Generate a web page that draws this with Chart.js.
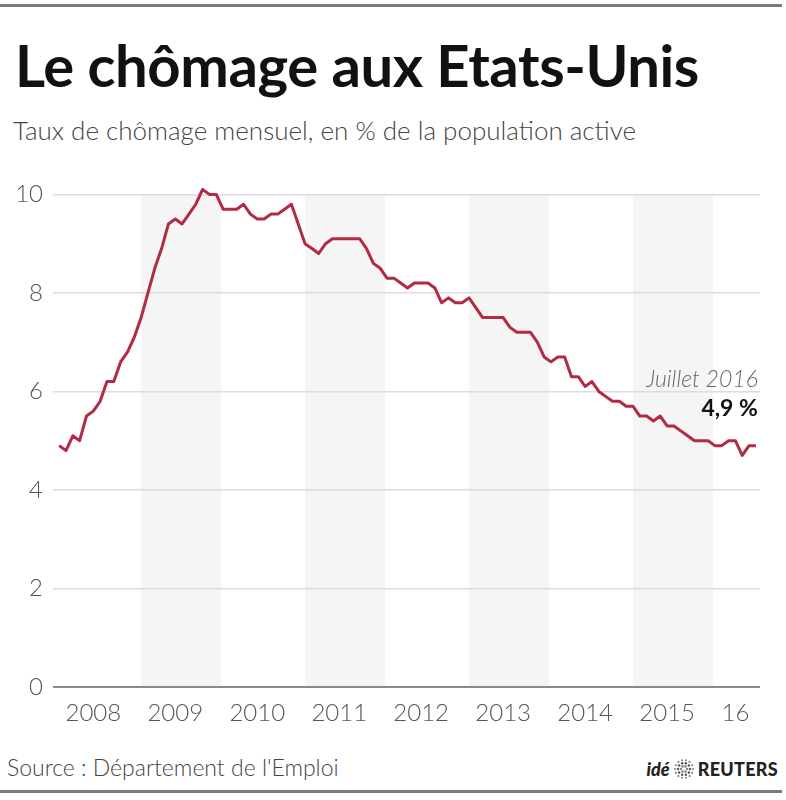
<!DOCTYPE html>
<html lang="fr">
<head>
<meta charset="utf-8">
<script src="https://cdn.jsdelivr.net/npm/chart.js@4.4.1/dist/chart.umd.min.js"></script>
<style>
  body { margin: 0; width: 786px; height: 800px; background: #fff; position: relative; overflow: hidden;
         font-family: Lato, "Open Sans", sans-serif; }
  .rule { position: absolute; left: 0; width: 782px; height: 3px; background: #7a7a7a; }
  #title { position: absolute; left: 15px; top: 36px; font-size: 58px; line-height: 58px; font-weight: 700;
           color: #111; white-space: nowrap; letter-spacing: -0.4px; }
  #subtitle { position: absolute; left: 13px; top: 117px; font-size: 26px; line-height: 26px; font-weight: 300;
              color: #444; white-space: nowrap; }
  #source { position: absolute; left: 7px; top: 756px; font-size: 23px; line-height: 23px; font-weight: 300;
            color: #444; white-space: nowrap; }
  #logo { position: absolute; right: 8px; top: 758px; display: flex; align-items: center; gap: 3px;
          font-size: 18px; line-height: 20px; color: #222; }
  #logo .ide { font-weight: 900; font-style: italic; }
  #logo .reuters { font-weight: 900; letter-spacing: 0.3px; }
  #chart { position: absolute; left: 0; top: 170px; }
</style>
</head>
<body>
<div class="rule" style="top:4px"></div>
<div id="title">Le chômage aux Etats-Unis</div>
<div id="subtitle">Taux de chômage mensuel, en % de la population active</div>
<canvas id="chart" width="786" height="570"></canvas>
<div id="source">Source : Département de l'Emploi</div>
<div id="logo"><span class="ide">idé</span><svg id="emblem" width="22" height="22" viewBox="-11 -11 22 22"></svg><span class="reuters">REUTERS</span></div>
<div class="rule" style="top:790px"></div>

<script>
// monthly unemployment rate, % (Jan 2008 - Jul 2016)
const rate2008 = [4.9, 4.8, 5.1, 5.0, 5.5, 5.6, 5.8, 6.2, 6.2, 6.6, 6.8, 7.1];
const rate2009 = [7.5, 8.0, 8.5, 8.9, 9.4, 9.5, 9.4, 9.6, 9.8, 10.1, 10.0, 10.0];
const rate2010 = [9.7, 9.7, 9.7, 9.8, 9.6, 9.5, 9.5, 9.6, 9.6, 9.7, 9.8, 9.4];
const rate2011 = [9.0, 8.9, 8.8, 9.0, 9.1, 9.1, 9.1, 9.1, 9.1, 8.9, 8.6, 8.5];
const rate2012 = [8.3, 8.3, 8.2, 8.1, 8.2, 8.2, 8.2, 8.1, 7.8, 7.9, 7.8, 7.8];
const rate2013 = [7.9, 7.7, 7.5, 7.5, 7.5, 7.5, 7.3, 7.2, 7.2, 7.2, 7.0, 6.7];
const rate2014 = [6.6, 6.7, 6.7, 6.3, 6.3, 6.1, 6.2, 6.0, 5.9, 5.8, 5.8, 5.7];
const rate2015 = [5.7, 5.5, 5.5, 5.4, 5.5, 5.3, 5.3, 5.2, 5.1, 5.0, 5.0, 5.0];
const rate2016 = [4.9, 4.9, 5.0, 5.0, 4.7, 4.9, 4.9];

const yearLabels = ['2008', '2009', '2010', '2011', '2012', '2013', '2014', '2015', '16'];
const yearTickMonths = [5, 17, 29, 41, 53, 65, 77, 89, 99]; // month index where each year label sits
const shadedYears = [2009, 2011, 2013, 2015];
const yTicks = [0, 2, 4, 6, 8, 10];

const noteDate = 'Juillet 2016';
const noteValue = '4,9 %';

const rates = [].concat(rate2008, rate2009, rate2010, rate2011, rate2012, rate2013, rate2014, rate2015, rate2016);
const points = rates.map((v, i) => ({ x: i, y: v }));

// reuters dotted emblem
const svg = document.getElementById('emblem');
[[3, 6, 1.3], [6, 10, 1.2], [9, 14, 1.1]].forEach(([r, n, s]) => {
  for (let k = 0; k < n; k++) {
    const a = k / n * Math.PI * 2;
    const c = document.createElementNS('http://www.w3.org/2000/svg', 'circle');
    c.setAttribute('cx', (Math.cos(a) * r).toFixed(2));
    c.setAttribute('cy', (Math.sin(a) * r).toFixed(2));
    c.setAttribute('r', s);
    c.setAttribute('fill', r === 6 ? '#555' : '#888');
    svg.appendChild(c);
  }
});

const bandsPlugin = {
  id: 'bands',
  beforeDraw(chart) {
    const { ctx, chartArea, scales } = chart;
    ctx.save();
    ctx.fillStyle = '#f5f5f5';
    shadedYears.forEach(y => {
      const x0 = scales.x.getPixelForValue((y - 2008) * 12);
      const x1 = scales.x.getPixelForValue((y - 2008) * 12 + 11.7);
      ctx.fillRect(x0, chartArea.top, x1 - x0, chartArea.bottom - chartArea.top);
    });
    ctx.restore();
  }
};

const notePlugin = {
  id: 'note',
  afterDatasetsDraw(chart) {
    const { ctx, scales } = chart;
    const last = points[points.length - 1];
    const x = scales.x.getPixelForValue(last.x) + 2;
    const y = scales.y.getPixelForValue(last.y);
    ctx.save();
    ctx.textAlign = 'right';
    ctx.textBaseline = 'alphabetic';
    ctx.fillStyle = '#666';
    ctx.font = 'italic 300 23px Lato';
    ctx.fillText(noteDate, x, y - 59);
    ctx.fillStyle = '#111';
    ctx.font = '700 23px Lato';
    ctx.fillText(noteValue, x, y - 30);
    ctx.restore();
  }
};

new Chart(document.getElementById('chart'), {
  type: 'line',
  data: {
    datasets: [{
      data: points,
      borderColor: '#b22a43',
      borderWidth: 3,
      borderJoinStyle: 'round',
      pointRadius: 0,
      tension: 0,
      clip: false
    }]
  },
  options: {
    responsive: false,
    animation: false,
    layout: { padding: { top: 24, right: 26, left: 0, bottom: 0 } },
    plugins: { legend: { display: false }, tooltip: { enabled: false } },
    scales: {
      x: {
        type: 'linear',
        min: -0.9,
        max: 102.6,
        grid: { display: false, drawTicks: false },
        border: { display: false },
        afterBuildTicks: scale => { scale.ticks = yearTickMonths.map(v => ({ value: v })); },
        afterFit: scale => { scale.height = 53; },
        ticks: {
          autoSkip: false,
          maxRotation: 0,
          padding: 12,
          color: '#555',
          font: { family: 'Lato', size: 24, weight: 300 },
          callback: (v, i) => yearLabels[i]
        }
      },
      y: {
        min: 0,
        max: 10,
        afterBuildTicks: scale => { scale.ticks = yTicks.map(v => ({ value: v })); },
        afterFit: scale => { scale.width = 53; },
        grid: {
          drawTicks: false,
          color: c => c.tick.value === 0 ? '#8a8a8a' : '#dcdcdc',
          lineWidth: c => c.tick.value === 0 ? 2 : 1.5
        },
        border: { display: false },
        ticks: {
          padding: 10,
          color: '#555',
          font: { family: 'Lato', size: 24, weight: 300 }
        }
      }
    }
  },
  plugins: [bandsPlugin, notePlugin]
});
</script>
</body>
</html>
